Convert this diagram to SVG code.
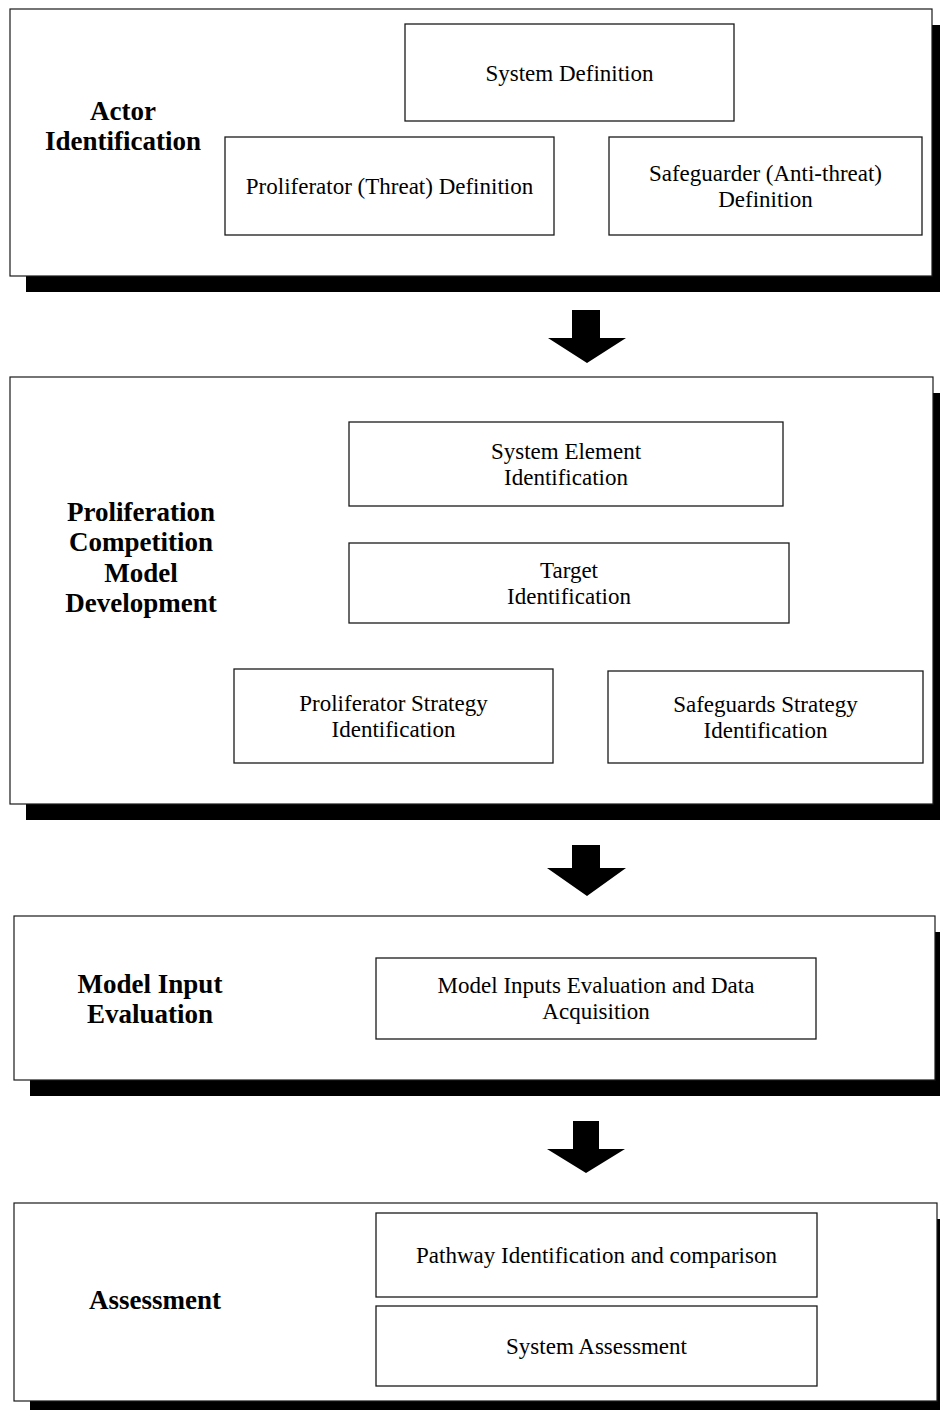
<svg xmlns="http://www.w3.org/2000/svg" width="940" height="1410" viewBox="0 0 940 1410">
  <style>
    .shadow { fill: #000; }
    .panel { fill: #fff; stroke: #1a1a1a; stroke-width: 1.2; }
    .box { fill: #fff; stroke: #1a1a1a; stroke-width: 1.3; }
    .label { font-family: "Liberation Serif", "Times New Roman", serif; font-size: 27px; font-weight: bold; fill: #000; text-anchor: middle; }
    .txt { font-family: "Liberation Serif", "Times New Roman", serif; font-size: 23px; fill: #000; text-anchor: middle; }
    .arrow { fill: #000; }
  </style>

  <!-- Stage 1: actor identification -->
  <g id="stage-actor">
    <rect class="shadow" x="26" y="25" width="922" height="267"/>
    <rect class="panel" x="10" y="9" width="922" height="267"/>
    <text class="label" x="123" y="120">Actor</text>
    <text class="label" x="123" y="150">Identification</text>
    <g id="system-definition">
      <rect class="box" x="405" y="24" width="329" height="97"/>
      <text class="txt" x="569.5" y="81">System Definition</text>
    </g>
    <g id="proliferator-definition">
      <rect class="box" x="225" y="137" width="329" height="98"/>
      <text class="txt" x="389.5" y="194">Proliferator (Threat) Definition</text>
    </g>
    <g id="safeguarder-definition">
      <rect class="box" x="609" y="137" width="313" height="98"/>
      <text class="txt" x="765.5" y="181">Safeguarder (Anti-threat)</text>
      <text class="txt" x="765.5" y="207">Definition</text>
    </g>
  </g>

  <!-- Stage 2: competition model development -->
  <g id="stage-model">
    <rect class="shadow" x="26" y="393" width="923" height="427"/>
    <rect class="panel" x="10" y="377" width="923" height="427"/>
    <text class="label" x="141" y="521">Proliferation</text>
    <text class="label" x="141" y="551">Competition</text>
    <text class="label" x="141" y="582">Model</text>
    <text class="label" x="141" y="612">Development</text>
    <g id="system-element">
      <rect class="box" x="349" y="422" width="434" height="84"/>
      <text class="txt" x="566" y="459">System Element</text>
      <text class="txt" x="566" y="485">Identification</text>
    </g>
    <g id="target">
      <rect class="box" x="349" y="543" width="440" height="80"/>
      <text class="txt" x="569" y="578">Target</text>
      <text class="txt" x="569" y="604">Identification</text>
    </g>
    <g id="proliferator-strategy">
      <rect class="box" x="234" y="669" width="319" height="94"/>
      <text class="txt" x="393.5" y="711">Proliferator Strategy</text>
      <text class="txt" x="393.5" y="737">Identification</text>
    </g>
    <g id="safeguards-strategy">
      <rect class="box" x="608" y="671" width="315" height="92"/>
      <text class="txt" x="765.5" y="712">Safeguards Strategy</text>
      <text class="txt" x="765.5" y="738">Identification</text>
    </g>
  </g>

  <!-- Stage 3: model input evaluation -->
  <g id="stage-input">
    <rect class="shadow" x="30" y="932" width="921" height="164"/>
    <rect class="panel" x="14" y="916" width="921" height="164"/>
    <text class="label" x="150" y="993">Model Input</text>
    <text class="label" x="150" y="1023">Evaluation</text>
    <g id="model-inputs">
      <rect class="box" x="376" y="958" width="440" height="81"/>
      <text class="txt" x="596" y="993">Model Inputs Evaluation and Data</text>
      <text class="txt" x="596" y="1019">Acquisition</text>
    </g>
  </g>

  <!-- Stage 4: assessment -->
  <g id="stage-assessment">
    <rect class="shadow" x="30" y="1219" width="923" height="198"/>
    <rect class="panel" x="14" y="1203" width="923" height="198"/>
    <text class="label" x="155" y="1309">Assessment</text>
    <g id="pathway">
      <rect class="box" x="376" y="1213" width="441" height="84"/>
      <text class="txt" x="596.5" y="1263">Pathway Identification and comparison</text>
    </g>
    <g id="system-assessment">
      <rect class="box" x="376" y="1306" width="441" height="80"/>
      <text class="txt" x="596.5" y="1354">System Assessment</text>
    </g>
  </g>

  <!-- Block arrows between stages -->
  <g id="connectors">
    <polygon class="arrow" points="572,310 600,310 600,338 626,338 587,363 548,338 572,338"/>
    <polygon class="arrow" points="572,845 600,845 600,868 626,868 587,896 547,868 572,868"/>
    <polygon class="arrow" points="573,1121 599,1121 599,1149 625,1149 586,1173 547,1149 573,1149"/>
  </g>
</svg>
